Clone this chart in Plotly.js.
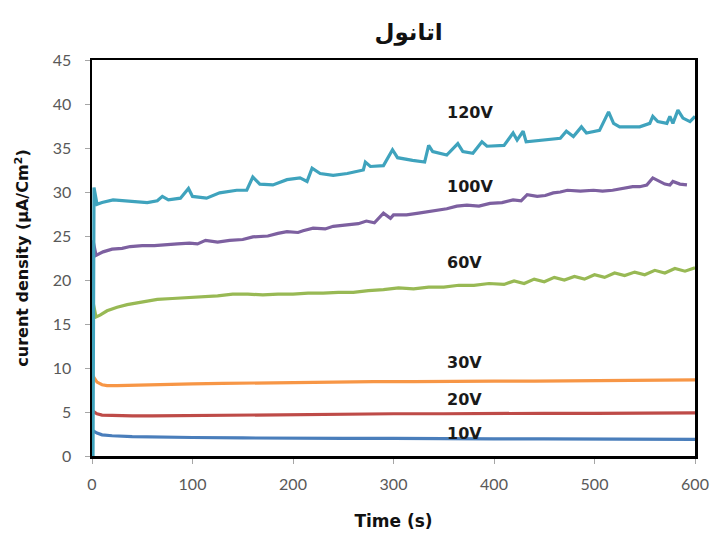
<!DOCTYPE html>
<html>
<head>
<meta charset="utf-8">
<script src="https://cdn.plot.ly/plotly-3.0.1.min.js"></script>
<style>
  html, body { margin: 0; padding: 0; background: #ffffff; }
  #chart { width: 717px; height: 536px; }
</style>
</head>
<body>
<div id="chart"></div>
<script>
// Current density vs. time at each anodizing voltage, [time (s), current density (µA/cm²)]
const v10 = [[0,0],[0.5,2.9],[2,2.8],[5,2.6],[10,2.4],[20,2.3],[40,2.2],[60,2.15],[80,2.1],[100,2.1],[150,2.05],[200,2.0],[250,2.0],[300,2.0],[350,1.95],[400,1.95],[450,1.95],[500,1.95],[550,1.9],[600,1.9]];

const v20 = [[0,0],[0.5,5.2],[2,5.0],[5,4.8],[10,4.65],[20,4.6],[40,4.55],[60,4.55],[100,4.6],[150,4.65],[200,4.7],[250,4.75],[300,4.8],[350,4.8],[400,4.85],[450,4.85],[500,4.85],[550,4.9],[600,4.9]];

const v30 = [[0,0],[0.5,9.2],[2,8.9],[5,8.4],[10,8.1],[15,8.0],[25,8.0],[40,8.05],[60,8.1],[80,8.15],[100,8.2],[130,8.25],[160,8.3],[200,8.35],[240,8.4],[280,8.45],[320,8.45],[360,8.5],[400,8.5],[440,8.5],[480,8.55],[520,8.55],[560,8.6],[600,8.65]];

const v60 = [[0,0],[1,17.5],[4,15.8],[8,16.0],[15,16.5],[25,16.9],[35,17.2],[45,17.4],[55,17.6],[65,17.8],[80,17.9],[95,18.0],[110,18.1],[125,18.2],[140,18.4],[155,18.4],[170,18.3],[185,18.4],[200,18.4],[215,18.5],[230,18.5],[245,18.6],[260,18.6],[275,18.8],[290,18.9],[305,19.1],[320,19.0],[335,19.2],[350,19.2],[365,19.4],[380,19.4],[395,19.6],[410,19.5],[420,19.9],[430,19.6],[440,20.1],[450,19.8],[460,20.3],[470,20.0],[480,20.4],[490,20.1],[500,20.6],[510,20.3],[520,20.8],[530,20.5],[540,20.9],[550,20.6],[560,21.1],[570,20.8],[580,21.3],[590,21.0],[600,21.4]];

const v100 = [[0,0],[1,24.5],[4,22.8],[11,23.2],[20,23.5],[30,23.6],[38,23.8],[50,23.9],[62,23.9],[70,24.0],[85,24.1],[97,24.2],[105,24.1],[113,24.5],[125,24.3],[137,24.5],[150,24.6],[160,24.9],[175,25.0],[185,25.3],[194,25.5],[205,25.4],[210,25.6],[220,25.9],[232,25.8],[240,26.1],[253,26.3],[265,26.4],[273,26.7],[281,26.5],[290,27.6],[297,27.0],[300,27.4],[313,27.4],[325,27.6],[336,27.8],[345,27.9],[353,28.1],[363,28.4],[373,28.5],[385,28.4],[396,28.7],[408,28.8],[419,29.1],[427,29.0],[433,29.7],[443,29.5],[451,29.6],[459,29.9],[466,30.0],[473,30.2],[486,30.1],[499,30.2],[508,30.1],[518,30.2],[528,30.4],[538,30.6],[545,30.6],[552,30.8],[558,31.6],[565,31.2],[570,30.9],[575,30.8],[578,31.2],[585,30.9],[592,30.8]];

const v120 = [[1,0],[2,30.5],[5,28.6],[10,28.8],[21,29.1],[30,29.0],[38,28.9],[55,28.8],[65,29.0],[70,29.5],[76,29.1],[88,29.3],[96,30.4],[100,29.5],[114,29.3],[127,29.9],[144,30.2],[154,30.2],[160,31.7],[167,30.9],[180,30.8],[194,31.4],[207,31.6],[214,31.2],[219,32.7],[227,32.1],[240,31.9],[254,32.1],[270,32.5],[272,33.4],[277,32.9],[290,33.0],[299,34.8],[304,33.9],[319,33.6],[331,33.4],[335,35.3],[339,34.6],[353,34.2],[364,35.5],[369,34.6],[379,34.4],[388,35.7],[393,35.2],[410,35.3],[419,36.7],[423,35.9],[429,36.9],[432,35.7],[452,35.9],[466,36.1],[472,36.9],[479,36.3],[487,37.4],[492,36.7],[505,37.0],[514,39.1],[519,37.8],[525,37.4],[545,37.4],[555,37.8],[558,38.6],[563,38.0],[572,37.8],[575,38.6],[578,37.8],[583,39.3],[588,38.4],[595,38.0],[600,38.6]];

const voltages = ['10V', '20V', '30V', '60V', '100V', '120V'];
const seriesData = [v10, v20, v30, v60, v100, v120];
const colors = ['#4a7ebb', '#be4b48', '#f79646', '#98b954', '#7d60a0', '#3fa3bd'];

// where each voltage label sits, next to its curve
const labelPos = { '10V': 2.6, '20V': 6.4, '30V': 10.6, '60V': 22.0, '100V': 30.6, '120V': 39.0 };

const traces = seriesData.map((s, i) => ({
  type: 'scatter',
  mode: 'lines',
  name: voltages[i],
  x: s.map(p => p[0]),
  y: s.map(p => p[1]),
  line: { color: colors[i], width: 3.2 },
  hoverinfo: 'x+y+name'
}));

const tickFontFamily = 'Lato, "Open Sans", sans-serif';
const boldFontFamily = '"DejaVu Sans", "Liberation Sans", sans-serif';

const annotations = voltages.map(v => ({
  x: 351, y: labelPos[v], xref: 'x', yref: 'y',
  text: '<b>' + v + '</b>',
  showarrow: false, xanchor: 'left', yanchor: 'middle',
  font: { family: boldFontFamily, size: 16, color: '#1a1a1a' }
}));

const layout = {
  width: 717, height: 536,
  margin: { l: 92, r: 22, t: 60, b: 80 },
  paper_bgcolor: '#ffffff', plot_bgcolor: '#ffffff',
  showlegend: false,
  title: {
    text: '<b>اتانول</b>',
    x: 0.525, xref: 'paper', xanchor: 'center',
    y: 0.94, yref: 'container', yanchor: 'middle',
    font: { family: boldFontFamily, size: 23, color: '#111111' }
  },
  xaxis: {
    range: [0, 600], dtick: 100, tick0: 0,
    showgrid: false, zeroline: false,
    showline: true, linecolor: '#000000', linewidth: 2.5, mirror: true,
    ticks: 'outside', ticklen: 5, tickcolor: '#a6a6a6', tickwidth: 1,
    ticklabelstandoff: 7,
    tickfont: { family: tickFontFamily, size: 16, color: '#595959' },
    layer: 'below traces',
    title: { text: '<b>Time (s)</b>', standoff: 24,
             font: { family: boldFontFamily, size: 17, color: '#111111' } }
  },
  yaxis: {
    range: [0, 45], dtick: 5, tick0: 0,
    showgrid: false, zeroline: false,
    showline: true, linecolor: '#000000', linewidth: 2.5, mirror: true,
    ticks: 'outside', ticklen: 5, tickcolor: '#a6a6a6', tickwidth: 1,
    ticklabelstandoff: 10,
    tickfont: { family: tickFontFamily, size: 16, color: '#595959' },
    layer: 'below traces',
    title: { text: '<b>curent density (µA/Cm<sup>2</sup>)</b>', standoff: 20,
             font: { family: boldFontFamily, size: 16, color: '#111111' } }
  },
  annotations: annotations
};

Plotly.newPlot('chart', traces, layout, { displayModeBar: false, staticPlot: true });
</script>
</body>
</html>
